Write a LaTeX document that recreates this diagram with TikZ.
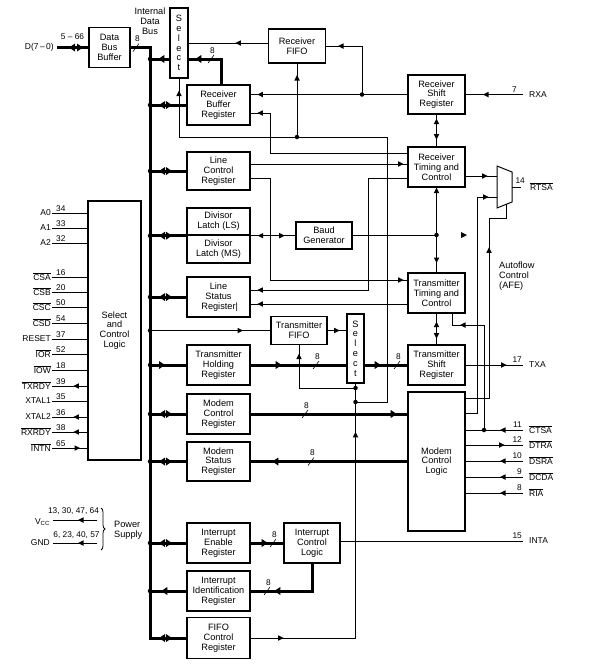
\documentclass[tikz,border=0pt]{standalone}
\usepackage{fontspec}
\setmainfont{Liberation Sans}
\usetikzlibrary{arrows.meta,decorations.markings,decorations.pathreplacing}
\newcommand\olbar[1]{$\overline{\mbox{#1}}$}
\newcommand\boxfont{\fontsize{9.2}{9.8}\selectfont}
\newcommand\pinfont{\fontsize{8.5}{9}\selectfont}
\newcommand\numfont{\fontsize{8.3}{9}\selectfont}
\tikzset{
  Tri/.tip={Triangle[length=5.5pt,width=5.5pt,line width=0pt]},
  TriB/.tip={Triangle[length=6pt,width=8pt,line width=0pt]},
  box/.style={draw,line width=1.4pt,inner sep=0pt,align=center,font=\boxfont},
  reg/.style={box,minimum width=63,minimum height=40},
  thinl/.style={line width=0.8pt},
  busl/.style={line width=3pt},
  ar/.style={postaction={decorate,decoration={markings,mark=at position #1 with {\arrow{Tri}}}}},
  ra/.style={postaction={decorate,decoration={markings,mark=at position #1 with {\arrowreversed{Tri}}}}},
  arB/.style={postaction={decorate,decoration={markings,mark=at position #1 with {\arrow{TriB}}}}},
  raB/.style={postaction={decorate,decoration={markings,mark=at position #1 with {\arrowreversed{TriB}}}}},
  jdot/.style={circle,fill,inner sep=0pt,minimum size=4.5pt},
  labl/.style={inner sep=0pt,font=\pinfont},
  numl/.style={inner sep=0pt,font=\numfont},
  pics/wid8/.style={code={\draw[line width=0.6pt] (-3,4) -- (3,-4); \node[numl] (-n) at (1.5,-8.5) {8};}},
}
\begin{document}
\begin{tikzpicture}[x=1pt,y=-1pt]
\useasboundingbox (0,0) rectangle (590,670);
% ---------- boxes
\node[box,minimum width=41,minimum height=40] (dbb) at (109.5,47.5) {Data\\Bus\\Buffer};
\node[box,minimum width=18,minimum height=70] (selR) at (179,43) {S\\e\\l\\e\\c\\t};
\node[box,minimum width=57,minimum height=34] (rfifo) at (297,46) {Receiver\\FIFO};
\node[reg] (rbr) at (218.5,105) {Receiver\\Buffer\\Register};
\node[box,minimum width=57,minimum height=39] (rsr) at (436.5,94.5) {Receiver\\Shift\\Register};
\node[box,minimum width=57,minimum height=40] (rtc) at (436.5,167) {Receiver\\Timing and\\Control};
\node[reg,minimum height=38] (lcr) at (218.5,171) {Line\\Control\\Register};
\node[reg,minimum height=27] (dll) at (218.5,221.5) {Divisor\\Latch (LS)};
\node[reg,minimum height=28] (dlm) at (218.5,249) {Divisor\\Latch (MS)};
\node[box,minimum width=56,minimum height=27] (baud) at (324,235.5) {Baud\\Generator};
\node[reg] (lsr) at (218.5,297) {Line\\Status\\Register\rlap{|}};
\node[box,minimum width=57,minimum height=40] (ttc) at (436.5,293) {Transmitter\\Timing and\\Control};
\node[box,minimum width=56,minimum height=28] (tfifo) at (299,330.5) {Transmitter\\FIFO};
\node[box,minimum width=17,minimum height=69] (selT) at (355.5,348.5) {S\\e\\l\\e\\c\\t};
\node[reg] (thr) at (218.5,365) {Transmitter\\Holding\\Register};
\node[box,minimum width=57,minimum height=40] (tsr) at (436.5,365) {Transmitter\\Shift\\Register};
\node[reg] (mcr) at (218.5,414) {Modem\\Control\\Register};
\node[reg,minimum height=39] (msr) at (218.5,461.5) {Modem\\Status\\Register};
\node[box,minimum width=57,minimum height=139] (mcl) at (436.5,461.5) {Modem\\Control\\Logic};
\node[box,minimum width=53,minimum height=259] (scl) at (114.5,330.5) {Select\\and\\Control\\Logic};
\node[reg] (ier) at (218.5,543) {Interrupt\\Enable\\Register};
\node[box,minimum width=56,minimum height=40] (icl) at (312,543) {Interrupt\\Control\\Logic};
\node[reg] (iir) at (218.5,591) {Interrupt\\Identification\\Register};
\node[reg,minimum height=41] (fcr) at (218.5,638) {FIFO\\Control\\Register};
% multiplexer
\draw[line width=1pt] (497,166) -- (512,172) -- (512,202) -- (497,208) -- cycle;
\coordinate (muxin1) at (497,176);
\coordinate (muxin2) at (497,197);
\coordinate (muxsel) at (506,204.4);
\coordinate (muxout) at (512,187);
% ---------- internal bus
\coordinate (busT) at (150,47.5);
\coordinate (busB) at (150,638);
\draw[busl] (dbb.east) -- (busT) -- (busB) -- (fcr.west);
\pic (s1) at (136,47.5) {wid8};
\node[labl,align=center,font=\boxfont] (idb) at (150,21) {Internal\\Data\\Bus};
% D pins
\coordinate (dpin) at (57,47.5);
\node[labl,anchor=east] (dlab) at (54,47.5) {D(7\,–\,0)};
\node[numl] (dnum) at (72.5,37) {5 – 66};
\draw[busl,raB=12pt,arB=26pt] (dpin) -- (dbb.west);
% bus to registers
\foreach \b in {rbr,lcr,lsr,mcr,msr,ier}
  \draw[busl,raB=9pt,arB=22pt] (busT |- \b.west) -- (\b.west);
\draw[busl,raB=9pt,arB=22pt] (busT |- dll.south) -- (dll.south west);
\draw[busl,raB=9pt,arB=22pt] (busB) -- (fcr.west);
\draw[busl,arB=15pt] (busT |- thr.west) -- (thr.west);
\draw[busl,arB=25pt] (iir.west) -- (busT |- iir.west);
\draw[busl,arB=11pt] (selR.west |- 0,59) -- (busT |- 0,59);
\draw[thinl,ar=93pt] (busT |- tfifo.west) -- (tfifo.west);
\foreach \b in {rbr,lcr,lsr,thr,mcr,msr,ier,iir,tfifo}
  \node[jdot] (dot\b) at (busT |- \b.west) {};
\node[jdot] (dotsel) at (busT |- 0,59) {};
\node[jdot] (dotdl) at (busT |- dll.south) {};
% receiver side
\draw[busl,arB=51pt] ([xshift=2.5pt]rbr.north) |- (selR.east |- 0,59);
\pic (s2) at (211,59) {wid8};
\draw[thinl,ar=32.5pt] (rfifo.west |- selR.east) -- (selR.east);
\coordinate (j1) at (362,94.5);
\draw[thinl,ar=150pt] (rsr.west) -- (rbr.east |- rsr.west);
\draw[thinl,ar=72.5pt] (j1) |- (rfifo.east);
\coordinate (rxa) at (523,94.5);
\draw[thinl,ar=40pt] (rxa) -- (rsr.east);
\node[numl,anchor=south east] (n7) at (517,92.5) {7};
\node[labl,anchor=west] (lrxa) at (529,94.5) {RXA};
\draw[thinl,ra=4pt,ar=25pt] (rsr.south) -- (rtc.north);
\coordinate (j2) at (297,137);
\draw[thinl,ar=62pt] (j2) -- (rfifo.south);
\coordinate (j4) at (355.5,388);
\coordinate (j5) at (355.5,402);
\draw[thinl,ar=33pt,ar=311pt] (fcr.east) -| (selT.south);
\draw[thinl,ar=91pt] (j4) -| (tfifo.south);
\draw[thinl,ar=551pt] (j5) -| (387,137) -| (selR.south);
\draw[thinl,ar=190pt] (rtc.west |- 0,153) -| (270,113) -- (rbr.east |- 0,113);
\draw[thinl,ar=153pt] (lcr.east |- 0,164) -- (rtc.west |- 0,164);
\draw[thinl,ar=255pt] (lcr.east |- 0,178) -| (270,280) -- (ttc.west |- 0,280);
\draw[thinl,ar=262pt] (rtc.west |- 0,178) -| (368,290) -- (lsr.east |- 0,290);
\draw[thinl,ar=150pt] (ttc.west |- 0,304) -- (lsr.east |- 0,304);
% baud
\draw[thinl,ra=7pt,ar=34pt] (dll.south east) -- (baud.west |- dll.south east);
\coordinate (j3) at (436.5,235);
\draw[thinl] (baud.east |- j3) -- (j3);
\draw[thinl,-Tri] (j3) -- (rtc.south);
\draw[thinl,ar=28pt] (j3) -- (ttc.north);
\fill (461,232) -- (467,235) -- (461,238) -- cycle;
\draw[thinl,ra=8pt,ar=25pt] (ttc.south) -- (tsr.north);
% transmitter side
\draw[thinl,ar=12pt] (tfifo.east) -- (selT.west |- tfifo.east);
\draw[busl,arB=31pt] (thr.east) -- (selT.west |- thr.east);
\pic (s3) at (316,365) {wid8};
\draw[busl,arB=16pt] (selT.east |- tsr.west) -- (tsr.west);
\pic (s4) at (397,365) {wid8};
\coordinate (txa) at (523,365);
\draw[thinl,ar=41pt] (tsr.east) -- (txa);
\node[numl,anchor=south east] (n17) at (522,363) {17};
\node[labl,anchor=west] (ltxa) at (529,365) {TXA};
% modem
\draw[busl,arB=146pt] (mcr.east) -- (mcl.west |- mcr.east);
\pic (s5) at (305,414) {wid8};
\draw[busl,arB=135pt] (mcl.west |- msr.east) -- (msr.east);
\pic (s6) at (311,461.5) {wid8};
\coordinate (cts) at (523,430);
\coordinate (dtr) at (523,445);
\coordinate (dsr) at (523,461);
\coordinate (dcd) at (523,477);
\coordinate (ri) at (523,493);
\draw[thinl,ar=23pt] (cts) -- (mcl.east |- cts);
\draw[thinl,ar=39pt] (mcl.east |- dtr) -- (dtr);
\draw[thinl,ar=23pt] (dsr) -- (mcl.east |- dsr);
\draw[thinl,ar=23pt] (dcd) -- (mcl.east |- dcd);
\draw[thinl,ar=23pt] (ri) -- (mcl.east |- ri);
\node[numl,anchor=south east] (n11) at (522,428) {11};
\node[numl,anchor=south east] (n12) at (522,443) {12};
\node[numl,anchor=south east] (n10) at (522,459) {10};
\node[numl,anchor=south east] (n9) at (522,475) {9};
\node[numl,anchor=south east] (n8) at (522,491) {8};
\node[labl,anchor=west] (lcts) at (529,430) {\olbar{CTSA}};
\node[labl,anchor=west] (ldtr) at (529,445) {\olbar{DTRA}};
\node[labl,anchor=west] (ldsr) at (529,461) {\olbar{DSRA}};
\node[labl,anchor=west] (ldcd) at (529,477) {\olbar{DCDA}};
\node[labl,anchor=west] (lri) at (529,493) {\olbar{RIA}};
\coordinate (j6) at (484,430);
\node[jdot] (dotcts) at (j6) {};
\draw[thinl,ar=129pt] (j6) |- (452,325) -- (ttc.south -| 452,0);
\draw[thinl,ar=239pt] (mcl.east |- 0,413) -| (477,197) -- (muxin2);
\draw[thinl,ar=174pt] (mcl.east |- 0,398) -| (489,218) -| (muxsel);
\draw[thinl,ar=22pt] (rtc.east |- muxin1) -- (muxin1);
\coordinate (rts) at (521,187);
\draw[thinl] (muxout) -- (rts);
\node[numl,anchor=south east] (n14) at (525,184) {14};
\node[labl,anchor=west] (lrts) at (530,187) {\olbar{RTSA}};
\node[anchor=west,align=left,font=\boxfont,inner sep=0pt] (afe) at (499,276) {Autoflow\\Control\\(AFE)};
% interrupts
\draw[busl,arB=17pt] (ier.east) -- (icl.west);
\pic (s7) at (273,543) {wid8};
\draw[busl,arB=65pt] (icl.south) |- (iir.east);
\pic (s8) at (267,591) {wid8};
\coordinate (inta) at (523,541);
\draw[thinl] (icl.east |- inta) -- (inta);
\node[numl,anchor=south east] (n15) at (522,539) {15};
\node[labl,anchor=west] (linta) at (529,541) {INTA};
% dots
\foreach \j in {j1,j2,j3,j4,j5} \node[jdot] (dot\j) at (\j) {};
% left pins
\foreach \yy/\nm/\nu/\k in {
 213/A0/34/1, 228/A1/33/2, 243/A2/32/3,
 277/\olbar{CSA}/16/4, 292/\olbar{CSB}/20/5, 307/\olbar{CSC}/50/6, 323/\olbar{CSD}/54/7,
 339/RESET/37/8, 354/\olbar{IOR}/52/9, 370/\olbar{IOW}/18/10,
 386/\olbar{TXRDY}/39/11, 401/XTAL1/35/12, 417/XTAL2/36/13, 432/\olbar{RXRDY}/38/14, 448/\olbar{INTN}/65/15}{
  \coordinate (pin\k) at (52,\yy);
  \draw[thinl] (pin\k) -- (scl.west |- pin\k);
  \node[labl,anchor=east] (pinl\k) at (51,\yy) {\nm};
  \node[numl,anchor=south west] (pinn\k) at (56,\yy-1.5) {\nu};
}
\draw[thinl,ar=14pt] (scl.west |- pin11) -- (pin11);
\draw[thinl,ar=14pt] (scl.west |- pin13) -- (pin13);
\draw[thinl,ar=14pt] (scl.west |- pin14) -- (pin14);
\draw[thinl,ar=28pt] (pin15) -- (scl.west |- pin15);
% power supply
\coordinate (vccp) at (53,520);
\coordinate (gndp) at (53,543);
\coordinate (brv) at (97,520);
\coordinate (brg) at (97,543);
\draw[thinl,ar=19pt] (brv) -- (vccp);
\draw[thinl,ar=19pt] (brg) -- (gndp);
\node[labl,anchor=east] (vcc) at (50,522) {V\textsubscript{CC}};
\node[labl,anchor=east] (gnd) at (50,543) {GND};
\node[numl] (vccn) at (73.5,511.5) {13, 30, 47, 64};
\node[numl] (gndn) at (76.5,535) {6, 23, 40, 57};
\draw[thinl,decorate,decoration={brace,amplitude=4pt}] (101,508) -- (101,550);
\node[anchor=west,align=left,font=\boxfont,inner sep=0pt] (pwr) at (114,530) {Power\\Supply};
\end{tikzpicture}
\end{document}
